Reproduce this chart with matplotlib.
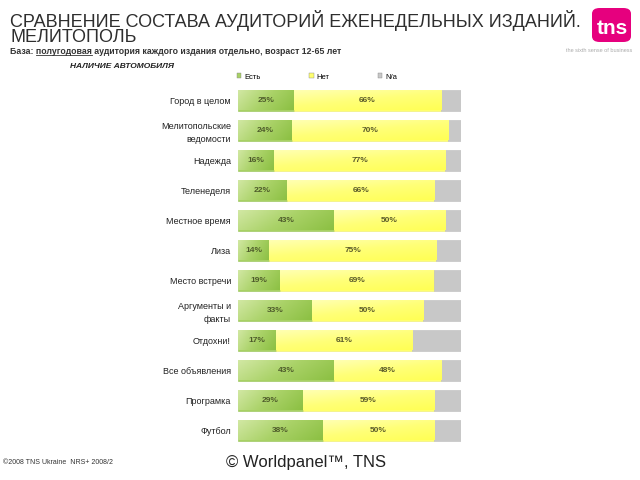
import numpy as np
import matplotlib.pyplot as plt
from matplotlib.patches import FancyBboxPatch, Patch
from matplotlib.colors import LinearSegmentedColormap

plt.rcParams['font.family'] = ['Liberation Sans', 'DejaVu Sans']

# data
titles = ["Город в целом", "Мелитопольские\nведомости", "Надежда", "Теленеделя",
          "Местное время", "Лиза", "Место встречи", "Аргументы и\nфакты",
          "Отдохни!", "Все объявления", "Програмка", "Футбол"]
yes_vals = [25, 24, 16, 22, 43, 14, 19, 33, 17, 43, 29, 38]
no_vals = [66, 70, 77, 66, 50, 75, 69, 50, 61, 48, 59, 50]
na_vals = [100 - a - b for a, b in zip(yes_vals, no_vals)]
series_names = ["Есть", "Нет", "N/a"]

c_yes = "#a8d165"
c_no = "#ffff6e"
c_na = "#c8c8c8"

cm_yes = LinearSegmentedColormap.from_list("g", ["#d2e8a4", "#aad268", "#8cc043"])
cm_no = LinearSegmentedColormap.from_list("y", ["#ffffb4", "#ffff78", "#ffff55"])

fig = plt.figure(figsize=(6.4, 4.8), dpi=100)

ax = fig.add_axes([238/640, 35/480, 223/640, 360/480])
y = np.arange(len(titles))
h = 0.7
b1 = ax.barh(y, yes_vals, height=h, color=c_yes, edgecolor="#94c250", linewidth=0.4)
b2 = ax.barh(y, no_vals, left=yes_vals, height=h, color=c_no, edgecolor="#eded70", linewidth=0.4)
left2 = np.array(yes_vals) + np.array(no_vals)
ax.barh(y, na_vals, left=left2, height=h, color=c_na, edgecolor="#bdbdbd", linewidth=0.4)

# gradient fill inside the bars
gx = np.linspace(0, 1, 64)[None, :]
gy = np.linspace(0, 1, 16)[:, None]
for bar in b1:
    x0, y0, w, hh = bar.get_x(), bar.get_y(), bar.get_width(), bar.get_height()
    grad = 0.75 * gx + 0.25 * gy
    im = ax.imshow(grad, cmap=cm_yes, extent=(x0, x0 + w, y0 + hh, y0), aspect="auto",
                   origin="upper", zorder=bar.get_zorder() + 0.1, interpolation="bilinear")
    im.set_clip_path(bar)
for bar in b2:
    x0, y0, w, hh = bar.get_x(), bar.get_y(), bar.get_width(), bar.get_height()
    grad = 0.4 * gx + 0.6 * gy
    im = ax.imshow(grad, cmap=cm_no, extent=(x0, x0 + w, y0 + hh, y0), aspect="auto",
                   origin="upper", zorder=bar.get_zorder() + 0.1, interpolation="bilinear")
    im.set_clip_path(bar)

for i in range(len(titles)):
    ax.text(yes_vals[i] / 2, y[i], f"{yes_vals[i]}%", ha="center", va="center",
            fontsize=6, fontweight="bold", color="#4d5a2a", zorder=5)
    ax.text(yes_vals[i] + no_vals[i] / 2, y[i], f"{no_vals[i]}%", ha="center", va="center",
            fontsize=6, fontweight="bold", color="#5a5a2a", zorder=5)

ax.set_xlim(0, 100)
ax.set_ylim(len(titles) - 0.5, -0.5)
ax.set_yticks(y)
ax.set_yticklabels(titles, fontsize=6.5, color="#222222", linespacing=1.5)
ax.tick_params(axis="y", length=0, pad=5)
ax.set_xticks([])
for s in ax.spines.values():
    s.set_visible(False)

handles = [Patch(facecolor=c, edgecolor="#888888", linewidth=0.3) for c in (c_yes, c_no, c_na)]
fig.legend(handles, series_names, loc="center left", bbox_to_anchor=(233/640, 1 - 77/480),
           ncol=3, frameon=False, fontsize=5.5, handlelength=0.6, handleheight=0.6,
           handletextpad=0.4, columnspacing=6.3, borderpad=0)

# headers
fig.text(10/640, 1 - 42/480, "СРАВНЕНИЕ СОСТАВА АУДИТОРИЙ ЕЖЕНЕДЕЛЬНЫХ ИЗДАНИЙ.\nМЕЛИТОПОЛЬ",
         fontsize=13.0, color="#2e2e2e", va="baseline", ha="left", linespacing=0.83)
fig.text(10/640, 1 - 51/480, "База: полугодовая аудитория каждого издания отдельно, возраст 12-65 лет",
         fontsize=6.3, fontweight="bold", color="#333333", va="center", ha="left")
fig.text(70/640, 1 - 66/480, "НАЛИЧИЕ АВТОМОБИЛЯ", fontsize=6, fontweight="bold", style="italic",
         color="#222222", va="center", ha="left")

# underline "полугодовая"
fig.canvas.draw()
r = fig.canvas.get_renderer()
pre = fig.text(0, 0, "База: ", fontsize=6.3, fontweight="bold")
word = fig.text(0, 0, "База: полугодовая", fontsize=6.3, fontweight="bold")
x0 = 10 + pre.get_window_extent(r).width
x1 = 10 + word.get_window_extent(r).width
pre.remove()
word.remove()
fig.add_artist(plt.Line2D([x0/640, x1/640], [1 - 55/480, 1 - 55/480], color="#333333", linewidth=0.6))

# logo
logo = FancyBboxPatch((592/640, 1 - 42/480), 39/640, 34/480,
                      boxstyle="round,pad=0,rounding_size=0.012", transform=fig.transFigure,
                      facecolor="#e6007e", edgecolor="none")
fig.add_artist(logo)
fig.text(612/640, 1 - 28/480, "tns", fontsize=15, fontweight="bold", color="white",
         ha="center", va="center")
fig.text(632/640, 1 - 51/480, "the sixth sense of business", fontsize=4, color="#aaaaaa",
         ha="right", va="center")

# footer
fig.text(3/640, 1 - 462/480, "©2008 TNS Ukraine  NRS+ 2008/2", fontsize=5, color="#333333",
         ha="left", va="center")
fig.text(306/640, 1 - 463/480, "© Worldpanel™, TNS", fontsize=12, color="#222222",
         ha="center", va="center")

fig.savefig("out.png", dpi=100)
